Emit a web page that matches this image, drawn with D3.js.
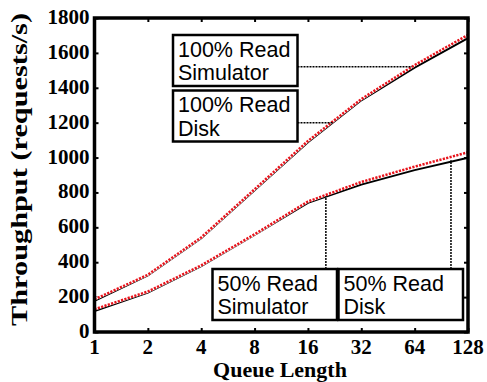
<!DOCTYPE html>
<html>
<head>
<meta charset="utf-8">
<script src="https://cdn.jsdelivr.net/npm/d3@7"></script>
<style>
  body { margin: 0; background: #fff; }
  svg { display: block; }
</style>
</head>
<body>
<div id="chart"></div>
<script>
// queue lengths on the x axis
let queueLengths = [1, 2, 4, 8, 16, 32, 64, 128]
let yTicks = [0, 200, 400, 600, 800, 1000, 1200, 1400, 1600, 1800]

// throughput (requests/s)
let read100Sim  = [187, 328, 542, 818, 1095, 1335, 1530, 1703]
let read100Disk = [178, 324, 538, 812, 1088, 1328, 1515, 1684]
let read50Sim   = [130, 232, 382, 560, 748, 860, 948, 1030]
let read50Disk  = [120, 226, 377, 556, 740, 845, 928, 999]

// annotation boxes and the point on the curve each one points at
let annotLabels  = [["100% Read", "Simulator"], ["100% Read", "Disk"], ["50% Read", "Simulator"], ["50% Read", "Disk"]]
let annotAnchorQ = [61.9, 22.2, 20.2, 102.6]
let annotAnchorV = [1521, 1200, 778, 984]

let width = 487, height = 382
let margin = {left: 94.5, right: 19, top: 18, bottom: 50}

let svg = d3.select("#chart").append("svg")
  .attr("width", width)
  .attr("height", height)

let x = d3.scaleLog().base(2)
  .domain([1, 128])
  .range([margin.left, width - margin.right])

let y = d3.scaleLinear()
  .domain([0, 1800])
  .range([height - margin.bottom, margin.top])

// inward ticks on all four sides
let tickLen = 4
svg.append("g")
  .attr("transform", "translate(0," + y(0) + ")")
  .call(d3.axisBottom(x).tickValues(queueLengths).tickSizeInner(-tickLen).tickSizeOuter(0).tickFormat(""))
svg.append("g")
  .attr("transform", "translate(0," + y(1800) + ")")
  .call(d3.axisTop(x).tickValues(queueLengths).tickSizeInner(-tickLen).tickSizeOuter(0).tickFormat(""))
svg.append("g")
  .attr("transform", "translate(" + x(1) + ",0)")
  .call(d3.axisLeft(y).tickValues(yTicks).tickSizeInner(-tickLen).tickSizeOuter(0).tickFormat(""))
svg.append("g")
  .attr("transform", "translate(" + x(128) + ",0)")
  .call(d3.axisRight(y).tickValues(yTicks).tickSizeInner(-tickLen).tickSizeOuter(0).tickFormat(""))
svg.selectAll(".domain").remove()
svg.selectAll(".tick line").attr("stroke", "#000").attr("stroke-width", 2)

// tick labels
svg.selectAll(".xlab").data(queueLengths).enter().append("text")
  .attr("x", d => x(d))
  .attr("y", y(0) + 22)
  .attr("text-anchor", "middle")
  .style("font-family", "'Liberation Serif', 'Times New Roman', serif")
  .style("font-weight", "bold")
  .style("font-size", "21px")
  .text(d => d)

svg.selectAll(".ylab").data(yTicks).enter().append("text")
  .attr("x", x(1) - 5)
  .attr("y", d => y(d) + 6)
  .attr("text-anchor", "end")
  .style("font-family", "'Liberation Serif', 'Times New Roman', serif")
  .style("font-weight", "bold")
  .style("font-size", "21px")
  .text(d => d)

// axis titles
svg.append("text")
  .attr("x", 280)
  .attr("y", 377)
  .attr("text-anchor", "middle")
  .style("font-family", "'Liberation Serif', 'Times New Roman', serif")
  .style("font-weight", "bold")
  .style("font-size", "22px")
  .text("Queue Length")

// the title in the picture is drawn taller than the font alone gives
svg.append("text")
  .attr("transform", "translate(27,326) rotate(-90)")
  .attr("textLength", 313)
  .attr("lengthAdjust", "spacingAndGlyphs")
  .style("font-family", "'Liberation Serif', 'Times New Roman', serif")
  .style("font-weight", "bold")
  .style("font-size", "24px")
  .text("Throughput (requests/s)")

// the curves
let line = d3.line()
  .x(d => x(d[0]))
  .y(d => y(d[1]))

function drawDisk(values) {
  svg.append("path")
    .datum(d3.zip(queueLengths, values))
    .attr("fill", "none")
    .attr("stroke", "#000")
    .attr("stroke-width", 2)
    .attr("d", line)
}

function drawSim(values) {
  let pts = d3.zip(queueLengths, values)
  svg.append("path")
    .datum(pts)
    .attr("fill", "none")
    .attr("stroke", "#fff")
    .attr("stroke-width", 2.5)
    .attr("d", line)
  svg.append("path")
    .datum(pts)
    .attr("fill", "none")
    .attr("stroke", "#e8141c")
    .attr("stroke-width", 2.5)
    .attr("stroke-dasharray", "2.2,1.3")
    .attr("d", line)
}

drawDisk(read100Disk)
drawSim(read100Sim)
drawDisk(read50Disk)
drawSim(read50Sim)

// annotation boxes
let boxW = 124.5, boxH = 51
let boxes = [
  {x: 173, y: 35, side: "right"},
  {x: 173, y: 90.5, side: "right"},
  {x: 212.5, y: 269, side: "top"},
  {x: 338.5, y: 269, side: "top"}
]

boxes.forEach(function(b, i) {
  let ax = x(annotAnchorQ[i]), ay = y(annotAnchorV[i])
  let leader = b.side == "right"
    ? [[b.x + boxW, ay], [ax, ay]]
    : [[ax, b.y], [ax, ay]]
  svg.append("path")
    .attr("d", d3.line()(leader))
    .attr("stroke", "#000")
    .attr("stroke-width", 1.5)
    .attr("stroke-dasharray", "2,1")
    .attr("fill", "none")

  svg.append("rect")
    .attr("x", b.x)
    .attr("y", b.y)
    .attr("width", boxW)
    .attr("height", boxH)
    .attr("fill", "#fff")
    .attr("stroke", "#000")
    .attr("stroke-width", 2.5)

  annotLabels[i].forEach(function(t, j) {
    svg.append("text")
      .attr("x", b.x + 5)
      .attr("y", b.y + 21.5 + j * 23.5)
      .style("font-family", "'Liberation Sans', Arial, sans-serif")
      .style("font-size", "21.5px")
      .text(t)
  })
})

// frame
svg.append("rect")
  .attr("x", x(1))
  .attr("y", y(1800))
  .attr("width", x(128) - x(1))
  .attr("height", y(0) - y(1800))
  .attr("fill", "none")
  .attr("stroke", "#000")
  .attr("stroke-width", 3.5)
</script>
</body>
</html>
